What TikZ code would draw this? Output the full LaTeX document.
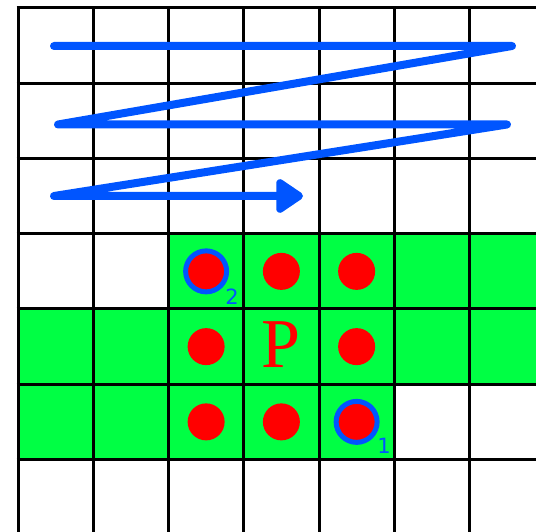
\documentclass[tikz,border=0pt]{standalone}
\usepackage{fontspec}
\newfontfamily\digitfont{DejaVu Sans}
\newfontfamily\pfont{Liberation Serif}
\usetikzlibrary{arrows.meta}
\definecolor{cellgreen}{RGB}{0,255,68}
\definecolor{scanblue}{RGB}{0,85,255}
\definecolor{dotred}{RGB}{255,0,0}
\begin{document}
\begin{tikzpicture}[x=1pt,y=1pt,
  gridline/.style={black,line width=3pt},
  pixdot/.style={circle,fill=dotred,minimum size=37pt,inner sep=0pt},
  ringdot/.style={pixdot,draw=scanblue,line width=5pt,minimum size=41pt},
  idx/.style={text=scanblue,font=\digitfont\fontsize{21}{21}\selectfont,inner sep=0pt},
  scan/.style={scanblue,line width=8pt,line cap=round,line join=round}]
\useasboundingbox (0,0) rectangle (536,531);
\clip (0,0) rectangle (536,531);
% cell size and origin (top-left corner of the grid)
\def\cs{75.25}
\def\gx{18}
\def\gy{523}
% green neighbourhood cells
\fill[cellgreen] (\gx+2*\cs,\gy-3*\cs) rectangle (560,\gy-4*\cs);
\fill[cellgreen] (\gx,\gy-4*\cs) rectangle (560,\gy-5*\cs);
\fill[cellgreen] (\gx,\gy-5*\cs) rectangle (\gx+5*\cs,\gy-6*\cs);
% grid
\foreach \i in {0,...,7} {
  \draw[gridline] (\gx+\i*\cs,\gy+1.5) -- (\gx+\i*\cs,-10);
  \draw[gridline] (\gx-1.5,\gy-\i*\cs) -- (560,\gy-\i*\cs);
}
% neighbourhood pixels around P
\node[ringdot] (n1) at (\gx+2.5*\cs,\gy-3.5*\cs) {};
\node[pixdot]  (n2) at (\gx+3.5*\cs,\gy-3.5*\cs) {};
\node[pixdot]  (n3) at (\gx+4.5*\cs,\gy-3.5*\cs) {};
\node[pixdot]  (n4) at (\gx+2.5*\cs,\gy-4.5*\cs) {};
\node[text=dotred,font=\pfont\fontsize{70}{70}\selectfont,inner sep=0pt] (p) at (\gx+3.5*\cs,\gy-4.47*\cs) {P};
\node[pixdot]  (n6) at (\gx+4.5*\cs,\gy-4.5*\cs) {};
\node[pixdot]  (n7) at (\gx+2.5*\cs,\gy-5.5*\cs) {};
\node[pixdot]  (n8) at (\gx+3.5*\cs,\gy-5.5*\cs) {};
\node[ringdot] (n9) at (\gx+4.5*\cs,\gy-5.5*\cs) {};
\node[idx] (l2) at (232,531-297) {2};
\node[idx] (l1) at (384,531-446) {1};
% raster scan path
\coordinate (s0) at (54,531-46);
\coordinate (s1) at (512,531-46);
\coordinate (s2) at (58,531-124.5);
\coordinate (s3) at (507,531-124.5);
\coordinate (s4) at (54,531-196);
\coordinate (s5) at (303,531-196);
\draw[scan,-{Triangle[length=30pt,width=38pt,round]}] (s0) -- (s1) -- (s2) -- (s3) -- (s4) -- (s5);
\end{tikzpicture}
\end{document}
